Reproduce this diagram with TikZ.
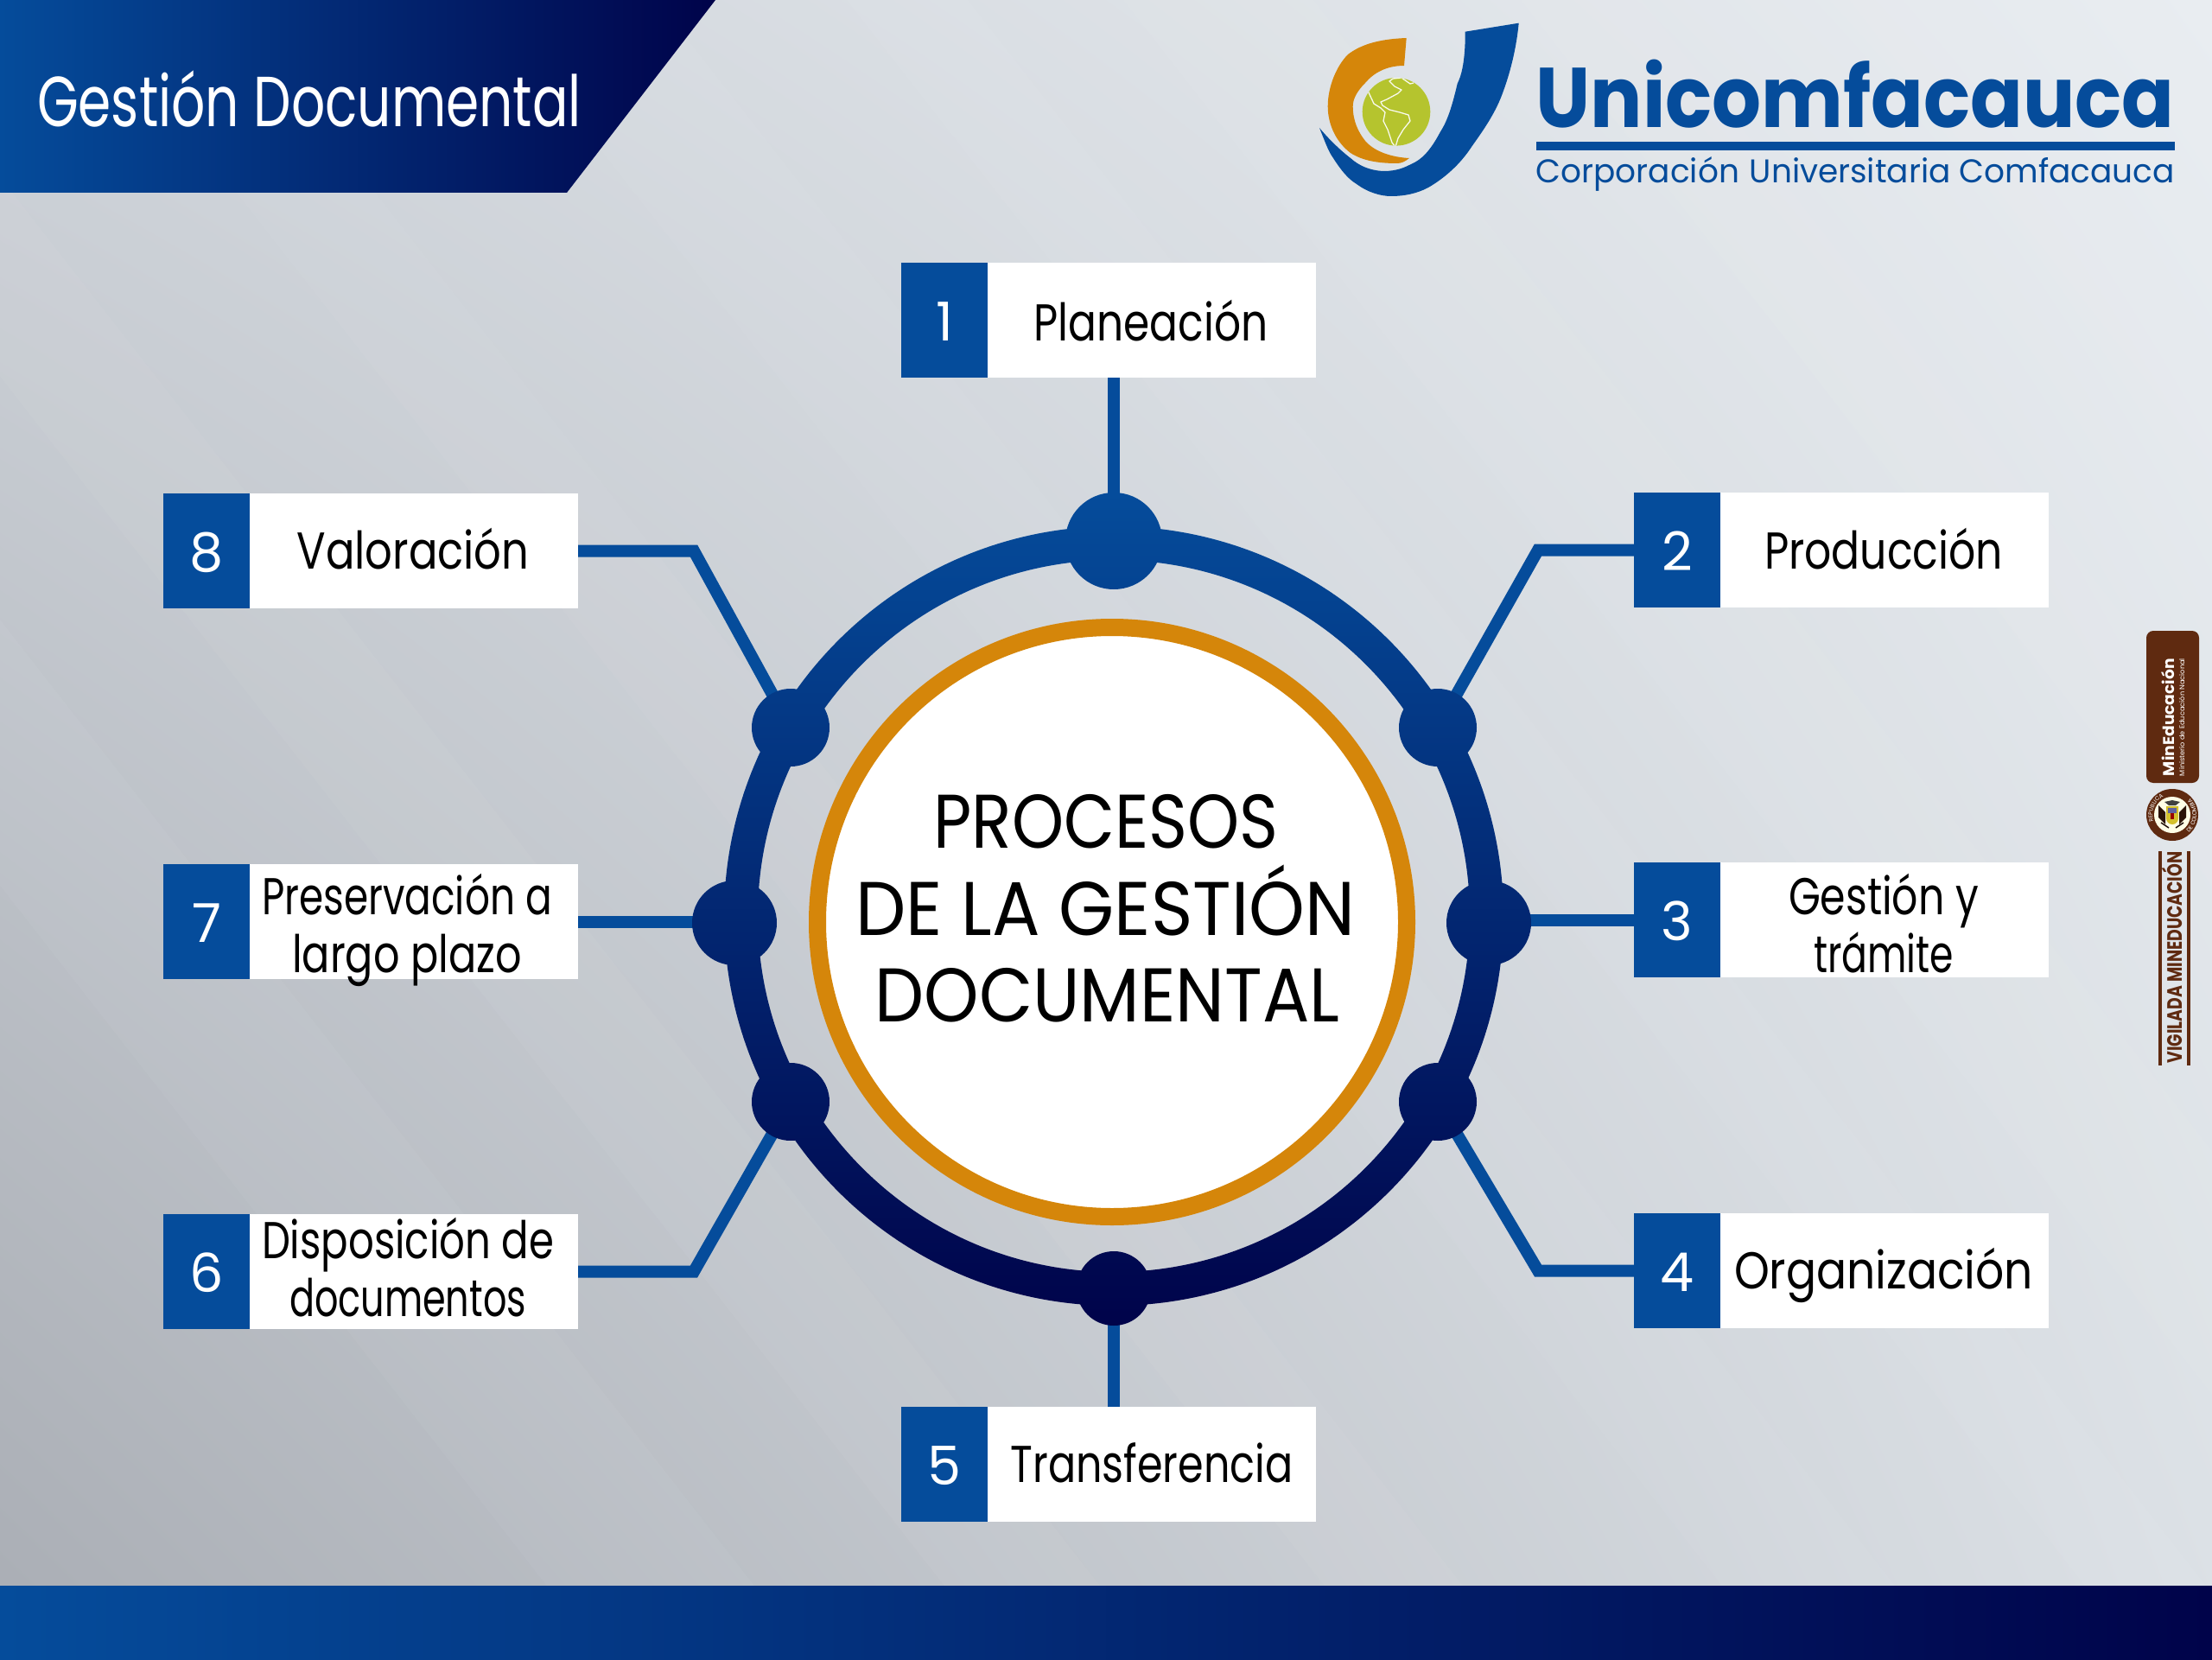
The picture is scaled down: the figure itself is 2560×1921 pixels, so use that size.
\documentclass[tikz,border=0pt]{standalone}
\usepackage{fontspec}
\usepackage{graphicx}
\usetikzlibrary{decorations.text,shadings}
\newfontfamily\fut{Poppins}
\setmainfont{Poppins}
\definecolor{ublue}{HTML}{054C9B}
\definecolor{unavy}{HTML}{00034A}
\definecolor{uorange}{HTML}{D5860A}
\definecolor{ubrown}{HTML}{5F2A10}
\definecolor{ugreen}{HTML}{B5C42E}
\definecolor{bgul}{HTML}{CFD4DA}
\definecolor{bgur}{HTML}{E9EDF1}
\definecolor{bgll}{HTML}{A9ADB4}
\definecolor{bglr}{HTML}{DBE0E5}
\newsavebox\fitbox
\newcommand\fitw[2]{\sbox\fitbox{#2}\pgfmathsetmacro\fitr{#1/\wd\fitbox}\scalebox{\fitr}[1]{\usebox\fitbox}}
\tikzset{
  whitebox/.style={fill=white,draw=none,anchor=north west,minimum width=480pt,minimum height=133pt,inner sep=0pt,outer sep=0pt},
  numbox/.style={fill=ublue,draw=none,text=white,anchor=north west,minimum height=133pt,inner sep=0pt,outer sep=0pt,font=\fontsize{62}{62}\selectfont,text height=48pt,text depth=0pt},
  lab/.style={text=black,inner sep=0pt,outer sep=0pt,anchor=base,font=\fontsize{60}{67}\selectfont},
  lab2/.style={lab,align=center},
  title/.style={text=black,inner sep=0pt,anchor=base,font=\fontsize{88}{88}\selectfont},
  link/.style={draw=ublue,line width=14pt,line join=miter},
  hub/.style={circle,inner sep=0pt,outer sep=0pt,draw=none},
}
\newcommand\tile[4]{%
  \node[whitebox] (b#1) at (#2,#3) {};
  \node[numbox,minimum width=100pt] (n#1) at (#2,#3) {#4};
}
\begin{document}
\begin{tikzpicture}[x=1pt,y=-1pt]
\useasboundingbox (0,0) rectangle (2560,1921);
% background
\shade[shading=bilinear interpolation,upper left=bgul,upper right=bgur,lower left=bgll,lower right=bglr] (0,0) rectangle (2560,1921);
\foreach \a/\b in {100/260,560/760,980/1120,1300/1520,1760/1900,2140/2360,-340/-160,-800/-560}{
  \fill[white,opacity=.04] (\a,0) -- (\b,0) -- (\b+1500,1921) -- (\a+1500,1921) -- cycle;
}
% header and footer
\shade[left color=ublue,right color=unavy] (0,0) -- (828,0) -- (656,223) -- (0,223) -- cycle;
\node[inner sep=0pt,anchor=base,text=white,font=\fontsize{82}{82}\selectfont] (head) at (358,147) {\fitw{630}{Gestión Documental}};
\shade[left color=ublue,right color=unavy] (0,1835) rectangle (2560,1921);
% logo
\fill[ublue] (1757.7,26.7) -- (1695.7,36.7)
  .. controls (1696,75) and (1690,90) .. (1686.7,96.7)
  .. controls (1680,125) and (1675,140) .. (1666.7,153)
  .. controls (1655,175) and (1645,185) .. (1633,190)
  .. controls (1620,197) and (1610,198) .. (1600,198)
  .. controls (1585,197) and (1573,192) .. (1563,183)
  .. controls (1550,173) and (1537,160) .. (1527,148)
  .. controls (1532,160) and (1537,175) .. (1543,183)
  .. controls (1552,197) and (1560,207) .. (1570,213)
  .. controls (1582,222) and (1597,227) .. (1610,227)
  .. controls (1625,227) and (1640,224) .. (1653,217)
  .. controls (1672,206) and (1690,190) .. (1703,170)
  .. controls (1715,153) and (1728,135) .. (1737,113)
  .. controls (1748,85) and (1755,55) .. (1757.7,26.7) -- cycle;
\fill[uorange] (1627.7,44) -- (1625,76)
  .. controls (1605,76) and (1590,84) .. (1580,96)
  .. controls (1570,106) and (1565.7,115) .. (1565.7,123)
  .. controls (1565.7,140) and (1572,153) .. (1580,163)
  .. controls (1590,175) and (1610,182) .. (1631,183)
  .. controls (1626,187) and (1622,189) .. (1616.7,189)
  .. controls (1595,189) and (1577,186) .. (1563,177)
  .. controls (1547,165) and (1536.7,145) .. (1536.7,123)
  .. controls (1536.7,100) and (1547,76) .. (1560,63)
  .. controls (1577,50) and (1600,45) .. (1627.7,44) -- cycle;
\fill[ugreen] (1616,129.3) circle[radius=39.3];
\begin{scope}
\clip (1616,129.3) circle[radius=39.3];
\draw[white!92!ugreen,line width=1.3pt,line join=round]
  (1583,105) -- (1590,120) -- (1598,125) -- (1603,130) -- (1601,140) -- (1606,150) -- (1611,165) -- (1615,170) -- (1618,160) -- (1624,150) -- (1632,140) -- (1630,133) -- (1620,130) -- (1608,127) -- (1600,122) -- (1598,118) -- (1605,115) -- (1618,108) -- (1622,104) -- (1614,100) -- (1608,94) -- (1612,91) -- (1622,90) -- (1632,97) -- (1636,96);
\end{scope}
\node[inner sep=0pt,anchor=base west,text=ublue,font=\bfseries\fontsize{98}{98}\selectfont] (unic) at (1777.5,148) {\fitw{739}{Unicomfacauca}};
\fill[ublue] (1777.5,164) rectangle (2516.5,174);
\node[inner sep=0pt,anchor=base west,text=ublue,font=\fontsize{38}{38}\selectfont] (corp) at (1777.5,212) {\fitw{739}{Corporación\hspace{12pt}Universitaria Comfacauca}};
% side badges
\fill[ubrown,rounded corners=8pt] (2484,730) rectangle (2545,906);
\node[rotate=90,inner sep=0pt,anchor=base,text=white,font=\bfseries\fontsize{18}{18}\selectfont] (med) at (2516,830) {\fitw{136}{MinEducación}};
\node[rotate=90,inner sep=0pt,anchor=base,text=white,font=\fontsize{8}{8}\selectfont] (min) at (2528,830) {\fitw{136}{Ministerio de Educación Nacional}};
\fill[ubrown] (2514,943) circle[radius=30];
\fill[white!90!yellow] (2514,943) circle[radius=21];
\path[decorate,decoration={text along path,text align=center,text={|\fut\fontsize{6.5}{6.5}\selectfont\color{white}|REPUBLICA}}] (2514,943) ++(135:23) arc[start angle=135,end angle=270,radius=23];
\path[decorate,decoration={text along path,text align=center,text={|\fut\fontsize{6.5}{6.5}\selectfont\color{white}|DE COLOMBIA}}] (2514,943) ++(70:28) arc[start angle=70,end angle=-65,radius=28];
\fill[black!55!ubrown] (2498,932) -- (2506,940) -- (2506,954) -- (2498,946) -- cycle (2530,932) -- (2522,940) -- (2522,954) -- (2530,946) -- cycle;
\fill[black!50!gray] (2514,926) -- (2505,928) -- (2510,932) -- (2518,932) -- (2523,928) -- cycle;
\fill[yellow!70!ubrown] (2507,933) -- (2521,933) -- (2521,947) arc[start angle=0,end angle=180,radius=7] -- cycle;
\fill[blue!25!gray] (2509,935) rectangle (2519,941);
\fill[red!60!black] (2512,941) rectangle (2516,948);
\draw[black!70!ubrown,line width=1.5pt] (2501,952) -- (2510,958) (2527,952) -- (2518,958);
\draw[ubrown,line width=4pt] (2500,985) -- (2500,1233) (2533,985) -- (2533,1233);
\node[rotate=90,inner sep=0pt,anchor=base,text=ubrown,font=\bfseries\fontsize{24}{24}\selectfont] (vig) at (2525,1108) {\fitw{245}{VIGILADA MINEDUCACIÓN}};
% boxes
\tile{1}{1043}{304}{1}
\tile{2}{1891}{570}{2}
\tile{3}{1891}{998}{3}
\tile{4}{1891}{1404}{4}
\tile{5}{1043}{1628}{5}
\tile{6}{189}{1405}{6}
\tile{7}{189}{1000}{7}
\tile{8}{189}{571}{8}
% hubs
\node[hub,minimum size=112pt] (r1) at (1289,626) {};
\node[hub,minimum size=90pt] (r2) at (1664,842) {};
\node[hub,minimum size=98pt] (r3) at (1723,1068) {};
\node[hub,minimum size=90pt] (r4) at (1664,1275) {};
\node[hub,minimum size=86pt] (r5) at (1289,1491) {};
\node[hub,minimum size=90pt] (r6) at (915,1275) {};
\node[hub,minimum size=98pt] (r7) at (850,1068) {};
\node[hub,minimum size=90pt] (r8) at (915,842) {};
\coordinate (e2) at (1780,636.5);
\coordinate (e4) at (1780,1470.5);
\coordinate (e6) at (803,1471.5);
\coordinate (e8) at (803,637.5);
% connectors
\draw[link] (b1.south -| r1) -- (r1.center);
\draw[link] (b2.west) -- (e2) -- (r2.center);
\draw[link] (b3.west) -- (b3.west -| r3);
\draw[link] (b4.west) -- (e4) -- (r4.center);
\draw[link] (b5.north -| r5) -- (r5.center);
\draw[link] (b6.east) -- (e6) -- (r6.center);
\draw[link] (b7.east) -- (b7.east -| r7);
\draw[link] (b8.east) -- (e8) -- (r8.center);
% ring
\shade[top color=ublue,bottom color=unavy]
  (1289,1060) ++(451,0) arc[start angle=0,end angle=360,radius=451]
  (1289,1060) ++(412,0) arc[start angle=360,end angle=0,radius=412]
  (1289,626) circle[radius=56]
  (1664,842) circle[radius=45]
  (1723,1068) circle[radius=49]
  (1664,1275) circle[radius=45]
  (1289,1491) circle[radius=43]
  (915,1275) circle[radius=45]
  (850,1068) circle[radius=49]
  (915,842) circle[radius=45];
\node[circle,fill=white,draw=uorange,line width=20pt,minimum size=682pt,inner sep=0pt] (core) at (1287,1067) {};
\node[title] (t1) at (1280,981) {\fitw{399}{PROCESOS}};
\node[title] (t2) at (1279,1082) {\fitw{578}{DE LA GESTIÓN}};
\node[title] (t3) at (1281.5,1182) {\fitw{538}{DOCUMENTAL}};
% labels
\node[lab] (l1) at (1332,394) {\fitw{271}{Planeación}};
\node[lab] (l2) at (2180,658) {\fitw{276}{Producción}};
\node[lab2] (l3) at (2180,1125) {\fitw{220}{Gestión y}\\\fitw{162}{trámite}};
\node[lab] (l4) at (2180,1491) {\fitw{346}{Organización}};
\node[lab] (l5) at (1333,1715) {\fitw{327}{Transferencia}};
\node[lab2] (l6) at (472,1523) {\fitw{338}{Disposición de}\\\fitw{274}{documentos}};
\node[lab2] (l7) at (471,1125) {\fitw{336}{Preservación a}\\\fitw{266}{largo plazo}};
\node[lab] (l8) at (478,658) {\fitw{269}{Valoración}};
\end{tikzpicture}
\end{document}
